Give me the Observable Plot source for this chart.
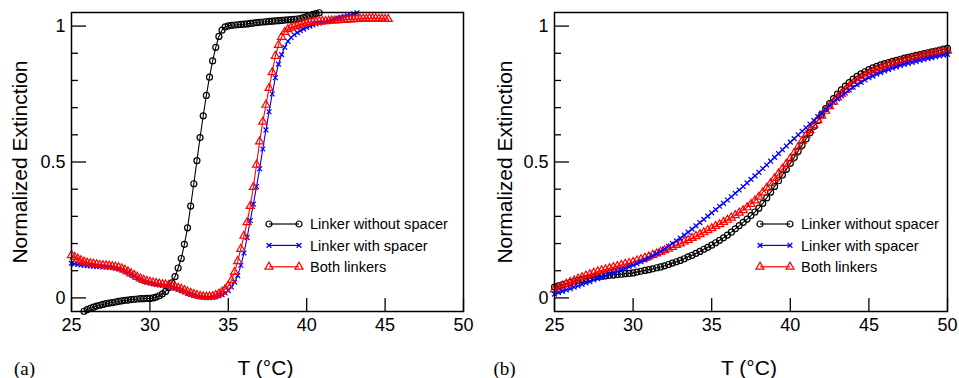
<!DOCTYPE html>
<html><head><meta charset="utf-8">
<script src="https://cdn.jsdelivr.net/npm/d3@7"></script>
<script src="https://cdn.jsdelivr.net/npm/@observablehq/plot@0.6"></script>
<style>
html,body{margin:0;padding:0;background:#fff;}
#wrap{display:flex;width:959px;height:378px;overflow:hidden;}
</style></head><body><div id="wrap"></div>
<script>
// ---- labels, ticks, series meta ----
const seriesNames = ["Linker without spacer", "Linker with spacer", "Both linkers"];
const seriesColors = ["#000000", "#0000ff", "#ff0000"];
const seriesSymbols = ["circle", "times", "triangle"];
const xTicks = [25, 30, 35, 40, 45, 50];
const yTicks = [0, 0.5, 1];
const yMinorTicks = [0.1, 0.2, 0.3, 0.4, 0.6, 0.7, 0.8, 0.9];
const panelLabels = ["(a)", "(b)"];
const xLabel = "T (°C)";
const yLabel = "Normalized Extinction";

// ---- panel (a): temperature sampling ----
const aBlackStart = 25.8, aStart = 25.0, aStep = 0.2;
const aBlack = [
-0.049,-0.043,-0.038,-0.034,-0.030,-0.027,-0.024,-0.021,-0.019,-0.017,
-0.015,-0.013,-0.011,-0.009,-0.008,-0.006,-0.005,-0.004,-0.003,-0.003,
-0.002,-0.002,0.000,0.003,0.008,0.015,0.024,0.037,0.055,0.078,
0.110,0.145,0.197,0.258,0.338,0.420,0.505,0.590,0.670,0.745,
0.812,0.872,0.922,0.962,0.985,0.997,1.001,1.003,1.004,1.005,
1.006,1.007,1.008,1.010,1.011,1.013,1.014,1.015,1.016,1.017,
1.018,1.019,1.020,1.021,1.022,1.023,1.024,1.025,1.026,1.028,
1.031,1.035,1.039,1.043,1.046,1.049];
const aBlue = [
0.127,0.125,0.123,0.121,0.120,0.119,0.118,0.117,0.116,0.115,
0.114,0.113,0.112,0.111,0.109,0.107,0.103,0.098,0.093,0.087,
0.080,0.074,0.068,0.063,0.058,0.055,0.052,0.050,0.048,0.046,
0.044,0.042,0.039,0.035,0.031,0.027,0.022,0.017,0.013,0.009,
0.006,0.004,0.002,0.001,0.001,0.002,0.004,0.007,0.012,0.018,
0.027,0.040,0.058,0.082,0.120,0.165,0.222,0.285,0.345,0.410,
0.475,0.548,0.618,0.685,0.750,0.810,0.860,0.895,0.922,0.944,
0.958,0.968,0.976,0.983,0.989,0.995,1.000,1.004,1.008,1.011,
1.014,1.017,1.020,1.023,1.026,1.029,1.032,1.035,1.038,1.041,
1.045,1.049];
const aRed = [
0.157,0.150,0.144,0.138,0.133,0.129,0.127,0.125,0.123,0.121,
0.120,0.119,0.118,0.116,0.114,0.112,0.108,0.103,0.097,0.090,
0.084,0.077,0.071,0.066,0.062,0.059,0.056,0.054,0.052,0.050,
0.049,0.047,0.045,0.041,0.037,0.033,0.028,0.023,0.018,0.014,
0.010,0.007,0.005,0.004,0.005,0.006,0.010,0.015,0.022,0.032,
0.045,0.065,0.095,0.135,0.180,0.228,0.278,0.338,0.408,0.490,
0.575,0.648,0.710,0.772,0.830,0.890,0.930,0.960,0.978,0.988,
0.994,0.998,1.001,1.005,1.009,1.012,1.014,1.015,1.016,1.017,
1.018,1.018,1.019,1.020,1.020,1.021,1.022,1.023,1.024,1.024,
1.025,1.026,1.026,1.027,1.027,1.028,1.028,1.028,1.027,1.027,
1.026,1.026];

// ---- panel (b): temperature sampling ----
const bStart = 25.0, bStep = 0.25;
const bBlack = [
0.040,0.044,0.048,0.052,0.056,0.060,0.064,0.068,0.071,0.073,
0.076,0.078,0.080,0.081,0.083,0.084,0.086,0.087,0.089,0.090,
0.092,0.095,0.098,0.101,0.104,0.107,0.111,0.114,0.118,0.123,
0.128,0.133,0.138,0.144,0.151,0.157,0.164,0.171,0.179,0.186,
0.194,0.203,0.212,0.221,0.231,0.242,0.254,0.266,0.278,0.290,
0.303,0.316,0.330,0.348,0.368,0.389,0.410,0.431,0.452,0.473,
0.495,0.517,0.540,0.562,0.585,0.608,0.631,0.653,0.675,0.696,
0.715,0.733,0.750,0.765,0.779,0.792,0.805,0.815,0.824,0.832,
0.840,0.846,0.852,0.857,0.862,0.866,0.870,0.874,0.878,0.882,
0.885,0.889,0.892,0.895,0.899,0.902,0.905,0.908,0.912,0.915,
0.918];
const bBlue = [
0.014,0.019,0.024,0.029,0.034,0.039,0.044,0.050,0.055,0.060,
0.066,0.071,0.076,0.081,0.087,0.092,0.097,0.103,0.108,0.114,
0.120,0.126,0.133,0.140,0.147,0.155,0.163,0.171,0.180,0.190,
0.200,0.210,0.220,0.231,0.242,0.253,0.265,0.277,0.289,0.301,
0.313,0.325,0.337,0.348,0.360,0.372,0.385,0.397,0.410,0.423,
0.436,0.449,0.462,0.476,0.489,0.503,0.517,0.531,0.545,0.559,
0.573,0.586,0.600,0.613,0.626,0.640,0.653,0.667,0.680,0.693,
0.707,0.720,0.732,0.743,0.754,0.765,0.775,0.784,0.793,0.802,
0.810,0.816,0.823,0.829,0.835,0.840,0.845,0.850,0.855,0.859,
0.863,0.866,0.870,0.874,0.877,0.881,0.884,0.887,0.890,0.893,
0.896];
const bRed = [
0.031,0.038,0.045,0.052,0.058,0.064,0.070,0.076,0.082,0.087,
0.092,0.097,0.101,0.105,0.109,0.113,0.117,0.121,0.125,0.128,
0.132,0.137,0.142,0.147,0.152,0.158,0.163,0.169,0.175,0.181,
0.187,0.194,0.200,0.207,0.213,0.220,0.227,0.234,0.241,0.249,
0.256,0.264,0.271,0.279,0.287,0.295,0.304,0.313,0.322,0.333,
0.345,0.358,0.372,0.388,0.405,0.422,0.440,0.457,0.475,0.493,
0.512,0.533,0.555,0.577,0.598,0.617,0.635,0.653,0.670,0.688,
0.705,0.721,0.737,0.751,0.765,0.777,0.789,0.799,0.809,0.817,
0.825,0.832,0.838,0.844,0.850,0.855,0.859,0.864,0.868,0.872,
0.876,0.880,0.884,0.887,0.891,0.894,0.897,0.900,0.903,0.906,
0.909];

// ---- helpers ----
const sans = "'Liberation Sans', Arial, Helvetica, sans-serif";
const serif = "'Liberation Serif', 'Times New Roman', serif";
const markerR = [3, 2.3, 3];
const xDomain = [25, 50], yDomain = [-0.05, 1.05];
const H = 378, MT = 12, MB = 67;

function rows(values, start, step) {
  return values.map((v, i) => ({t: Math.round((start + i * step) * 100) / 100, v}));
}

function panel({data, order, width, marginLeft, marginRight, label, ylabDx, labDx, legendX}) {
  // pixel-length tick marks expressed in data units of this panel
  const pxPerY = (H - MT - MB) / (yDomain[1] - yDomain[0]);
  const pxPerX = (width - marginLeft - marginRight) / (xDomain[1] - xDomain[0]);
  const marks = [];
  for (const k of order) {
    marks.push(Plot.line(data[k], {x: "t", y: "v", stroke: seriesColors[k], strokeWidth: 1.1}));
    marks.push(Plot.dot(data[k], {x: "t", y: "v", stroke: seriesColors[k], fill: "none",
      symbol: seriesSymbols[k], r: markerR[k], strokeWidth: 1.2}));
  }
  const chart = Plot.plot({
    width, height: H, marginLeft, marginRight, marginTop: MT, marginBottom: MB,
    style: {fontFamily: sans, background: "#fff", color: "#000"},
    x: {domain: xDomain, label: null},
    y: {domain: yDomain, label: null},
    marks: [
      ...marks,
      Plot.ruleX(xTicks, {x: d => d, y1: yDomain[0], y2: yDomain[0] + 13 / pxPerY, stroke: "#000", strokeWidth: 1.3}),
      Plot.ruleY(yTicks, {y: d => d, x1: xDomain[0], x2: xDomain[0] + 15 / pxPerX, stroke: "#000", strokeWidth: 1.3}),
      Plot.ruleY(yMinorTicks, {y: d => d, x1: xDomain[0], x2: xDomain[0] + 7 / pxPerX, stroke: "#000", strokeWidth: 1.3}),
      Plot.axisX(xTicks, {tickSize: 0, tickPadding: 7, fontSize: 18}),
      Plot.axisY(yTicks, {tickSize: 0, tickPadding: 6, fontSize: 18, tickFormat: d => String(d)}),
      Plot.frame({stroke: "#000", strokeWidth: 1.5}),
      Plot.text([yLabel], {frameAnchor: "left", rotate: -90, dx: ylabDx, fontSize: 21, textAnchor: "middle", lineAnchor: "middle"}),
      Plot.text([xLabel], {frameAnchor: "bottom", dx: -2, dy: 57, fontSize: 21, textAnchor: "middle", lineAnchor: "middle"}),
      Plot.text([label], {frameAnchor: "bottom-left", dx: labDx, dy: 57, fontSize: 19, fontFamily: serif, textAnchor: "middle", lineAnchor: "middle"})
    ]
  });
  // in-plot legend
  const svg = d3.select(chart);
  const g = svg.append("g").attr("font-family", sans).attr("font-size", 14.6).attr("text-anchor", "start");
  const symbolTypes = [d3.symbolCircle, d3.symbolTimes, d3.symbolTriangle];
  seriesNames.forEach((name, i) => {
    const y = 224 + i * 21.4;
    const c = seriesColors[i];
    g.append("line").attr("x1", legendX).attr("x2", legendX + 30).attr("y1", y).attr("y2", y)
      .attr("stroke", c).attr("stroke-width", 1.2);
    for (const x of [legendX, legendX + 30]) {
      g.append("path").attr("transform", `translate(${x},${y})`)
        .attr("d", d3.symbol(symbolTypes[i], Math.PI * markerR[i] * markerR[i])())
        .attr("fill", "none").attr("stroke", c).attr("stroke-width", 1.2);
    }
    g.append("text").attr("x", legendX + 41).attr("y", y).attr("dy", "0.35em")
      .attr("fill", "#000").attr("text-anchor", "start").text(name);
  });
  return chart;
}

const wrap = document.getElementById("wrap");
wrap.appendChild(panel({
  data: [rows(aBlack, aBlackStart, aStep), rows(aBlue, aStart, aStep), rows(aRed, aStart, aStep)],
  order: [0, 1, 2], width: 480, marginLeft: 71, marginRight: 17,
  label: panelLabels[0], ylabDx: -51, labDx: -47, legendX: 269
}));
wrap.appendChild(panel({
  data: [rows(bBlack, bStart, bStep), rows(bBlue, bStart, bStep), rows(bRed, bStart, bStep)],
  order: [0, 2, 1], width: 479, marginLeft: 74, marginRight: 12,
  label: panelLabels[1], ylabDx: -49, labDx: -50, legendX: 280
}));
</script>
</body></html>
